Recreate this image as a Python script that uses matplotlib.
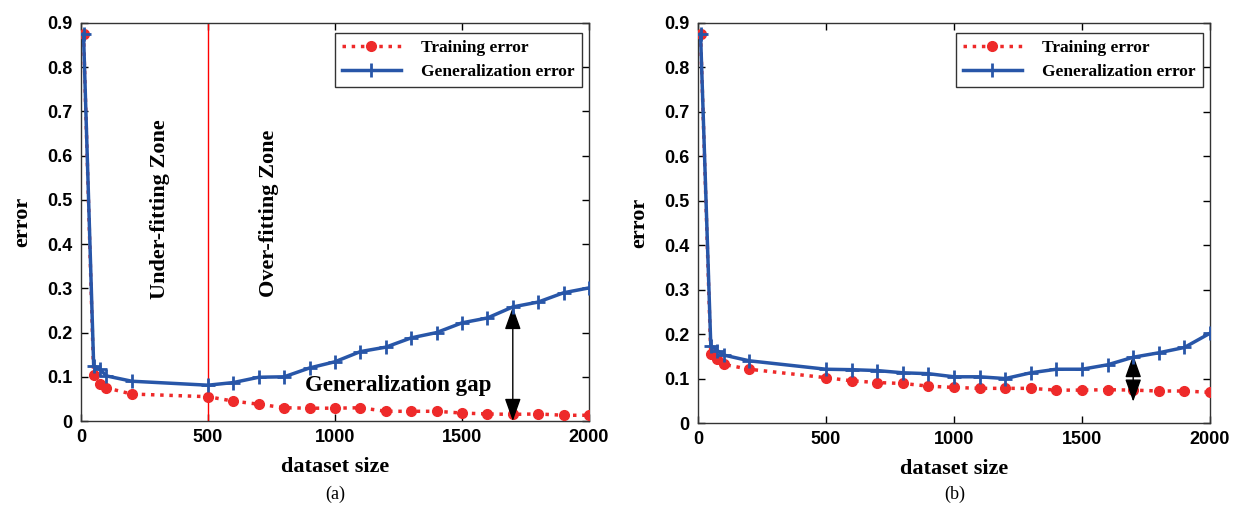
import matplotlib.pyplot as plt
import matplotlib.ticker as ticker

# dataset sizes used in both panels
sizes = [10, 50, 75, 100, 200, 500, 600, 700, 800, 900, 1000,
         1100, 1200, 1300, 1400, 1500, 1600, 1700, 1800, 1900, 2000]

# panel (a)
train_a = [0.875, 0.104, 0.084, 0.075, 0.061, 0.055, 0.045, 0.038, 0.030, 0.029, 0.029,
           0.030, 0.022, 0.022, 0.022, 0.018, 0.016, 0.015, 0.016, 0.013, 0.013]
gen_a = [0.875, 0.125, 0.117, 0.102, 0.090, 0.081, 0.087, 0.099, 0.100, 0.120, 0.134,
         0.157, 0.167, 0.188, 0.200, 0.222, 0.233, 0.258, 0.269, 0.290, 0.301]

# panel (b)
train_b = [0.875, 0.155, 0.143, 0.132, 0.121, 0.102, 0.095, 0.091, 0.089, 0.083, 0.080,
           0.078, 0.078, 0.078, 0.074, 0.074, 0.075, 0.074, 0.072, 0.072, 0.069]
gen_b = [0.875, 0.174, 0.163, 0.153, 0.140, 0.121, 0.120, 0.118, 0.113, 0.111, 0.104,
         0.104, 0.100, 0.113, 0.121, 0.121, 0.131, 0.148, 0.158, 0.170, 0.202]

yticks = [0, 0.1, 0.2, 0.3, 0.4, 0.5, 0.6, 0.7, 0.8, 0.9]
ytick_labels = ['0', '0.1', '0.2', '0.3', '0.4', '0.5', '0.6', '0.7', '0.8', '0.9']
xticks = [0, 500, 1000, 1500, 2000]

RED = '#ee2a2a'
BLUE = '#2856a8'
serif = 'Liberation Serif'
sans = 'Liberation Sans'

fig = plt.figure(figsize=(12.4, 5.12), dpi=100)
ax_a = fig.add_axes([0.0653, 0.1777, 0.4097, 0.7774])
ax_b = fig.add_axes([0.5629, 0.1738, 0.4129, 0.7813])


def style(ax, train, gen):
    ax.plot(sizes, train, color=RED, ls=':', lw=2.5, marker='o', ms=7,
            mec=RED, mfc=RED, label='Training error', zorder=3)
    ax.plot(sizes, gen, color=BLUE, ls='-', lw=2.5, marker='+', ms=10,
            mew=2, label='Generalization error', zorder=4)
    ax.set_xlim(0, 2000)
    ax.set_ylim(0, 0.9)
    ax.set_xticks(xticks)
    ax.set_yticks(yticks)
    ax.set_yticklabels(ytick_labels)
    ax.tick_params(direction='in', top=True, right=True, length=5, width=1,
                   labelsize=13, pad=6)
    for lab in ax.get_xticklabels() + ax.get_yticklabels():
        lab.set_fontfamily(sans)
        lab.set_fontweight('bold')
    for s in ax.spines.values():
        s.set_linewidth(1)
        s.set_color('#333333')
    ax.set_xlabel('dataset size', fontfamily=serif, fontweight='bold',
                  fontsize=16, labelpad=8)
    ax.set_ylabel('error', fontfamily=serif, fontweight='bold',
                  fontsize=16, labelpad=11)
    leg = ax.legend(loc='upper right', bbox_to_anchor=(0.986, 0.975),
                    borderaxespad=0,
                    prop={'family': serif, 'weight': 'bold', 'size': 12.5},
                    handlelength=3.4, fancybox=False, edgecolor='#333333',
                    borderpad=0.4, labelspacing=0.45, handletextpad=1.2,
                    framealpha=1)
    leg.get_frame().set_linewidth(1)


style(ax_a, train_a, gen_a)
style(ax_b, train_b, gen_b)

# panel (a) annotations
ax_a.axvline(500, color='red', lw=1, zorder=2)
ax_a.text(310, 0.48, 'Under-fitting Zone', rotation=90, ha='center', va='center',
          fontfamily=serif, fontweight='bold', fontsize=16)
ax_a.text(740, 0.47, 'Over-fitting Zone', rotation=90, ha='center', va='center',
          fontfamily=serif, fontweight='bold', fontsize=16)
ax_a.text(880, 0.081, 'Generalization gap', ha='left', va='center',
          fontfamily=serif, fontweight='bold', fontsize=16.5)
arrow = dict(arrowstyle='<|-|>,head_length=1.4,head_width=0.5', color='black',
             lw=1, shrinkA=0, shrinkB=0)
ax_a.annotate('', xy=(1700, 0.258), xytext=(1700, 0.0), arrowprops=arrow)

# panel (b) annotation
ax_b.annotate('', xy=(1700, 0.153), xytext=(1700, 0.048), arrowprops=arrow)

fig.text(335 / 1240, 1 - 494 / 512, '(a)', ha='center', va='center',
         fontfamily=serif, fontsize=13)
fig.text(955 / 1240, 1 - 494 / 512, '(b)', ha='center', va='center',
         fontfamily=serif, fontsize=13)

fig.savefig('out.png', dpi=100)
